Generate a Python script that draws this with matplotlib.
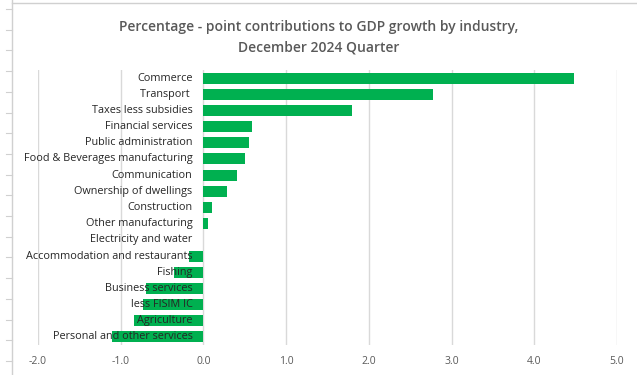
import matplotlib.pyplot as plt
from matplotlib.lines import Line2D
from matplotlib.transforms import offset_copy

# industries, top to bottom, and their contributions (percentage points)
industries = [
    "Commerce", "Transport ", "Taxes less subsidies", "Financial services",
    "Public administration", "Food & Beverages manufacturing", "Communication",
    "Ownership of dwellings", "Construction", "Other manufacturing",
    "Electricity and water", "Accommodation and restaurants", "Fishing",
    "Business services", "less FISIM IC", "Agriculture",
    "Personal and other services",
]
contributions = [4.48, 2.78, 1.80, 0.59, 0.55, 0.50, 0.41, 0.29, 0.10, 0.06,
                 0.0, -0.18, -0.36, -0.69, -0.73, -0.84, -1.10]
x_ticks = [-2.0, -1.0, 0.0, 1.0, 2.0, 3.0, 4.0, 5.0]

plt.rcParams['font.family'] = ['Open Sans', 'DejaVu Sans']
green = "#00B050"
grey_text = "#595959"

fig = plt.figure(figsize=(6.37, 3.75), dpi=100)
ax = fig.add_axes([38 / 637, 1 - 345 / 375, (617 - 38) / 637, 275 / 375])

ypos = list(range(len(industries)))[::-1]
ax.barh(ypos, contributions, height=0.68, color=green, zorder=2)

ax.set_xlim(-2, 5)
ax.set_ylim(-0.5, len(industries) - 0.5)
ax.set_xticks(x_ticks)
ax.set_xticklabels([f"{t:.1f}" for t in x_ticks], color=grey_text, fontsize=7.5)
ax.tick_params(axis='x', length=0, pad=8)
ax.set_yticks([])
ax.grid(axis='x', color="#d9d9d9", linewidth=1, zorder=0)
ax.set_axisbelow(True)
for s in ax.spines.values():
    s.set_visible(False)

# category labels sit just left of zero, drawn over the bars
lab_tr = offset_copy(ax.transData, fig=fig, x=-11, y=0, units='dots')
for y, name in zip(ypos, industries):
    ax.text(0, y, name, transform=lab_tr, ha='right', va='center',
            fontsize=7.8, color="#262626", zorder=5)

fig.text(0.5, 1 - 27 / 375, "Percentage - point contributions to GDP growth by industry,",
         ha='center', va='center', fontsize=10, fontweight='semibold', color=grey_text)
fig.text(0.5, 1 - 47 / 375, "December 2024 Quarter",
         ha='center', va='center', fontsize=10, fontweight='semibold', color=grey_text)

# spreadsheet frame around the chart
fig.add_artist(Line2D([12 / 637, 12 / 637], [0, 1], color="#d0d0d0", lw=1))
fig.add_artist(Line2D([12 / 637, 1], [1 - 3 / 375, 1 - 3 / 375], color="#d0d0d0", lw=1))
for k in range(18):
    yy = 1 - (9 + k * 20.7) / 375
    fig.add_artist(Line2D([6 / 637, 12 / 637], [yy, yy], color="#d0d0d0", lw=0.8))

fig.savefig("out.png", dpi=100)
